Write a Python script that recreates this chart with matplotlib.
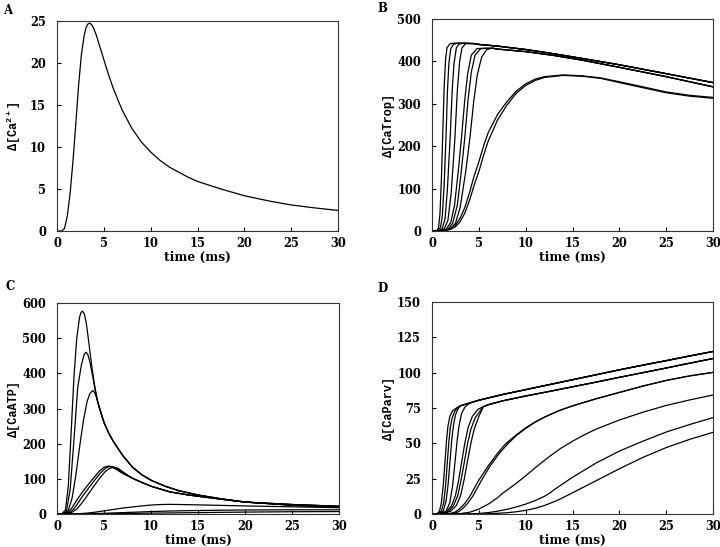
import matplotlib
matplotlib.use("Agg")
import matplotlib.pyplot as plt
import numpy as np

# ---- panel A: free Ca2+ transient ----
ca_t = [0, 0.5, 0.8, 1.1, 1.4, 1.7, 2.0, 2.3, 2.6, 2.9, 3.1, 3.3, 3.5, 3.7, 3.9, 4.2, 4.5, 5.0, 5.5, 6.0,
        6.5, 7, 8, 9, 10, 11, 12, 13, 14, 15, 17.5, 20, 22.5, 25, 27.5, 30]
ca_y = [0, 0, 0.3, 1.8, 4.5, 8.3, 12.7, 17.3, 21.0, 23.3, 24.2, 24.65, 24.75, 24.55, 24.15, 23.3, 22.2, 20.4, 18.6, 17.0,
        15.6, 14.3, 12.2, 10.6, 9.4, 8.4, 7.6, 7.0, 6.4, 5.9, 5.0, 4.2, 3.6, 3.1, 2.75, 2.45]

# ---- panel B: CaTrop ----
trop_tail1_t = [4.5, 5, 7, 10, 13, 16, 20, 25, 30]
trop_tail1_y = [442, 440, 436, 428, 418, 407, 392, 371, 350]
trop_tail2_t = [6.5, 7, 10, 13, 16, 20, 25, 30]
trop_tail2_y = [431, 429, 423, 414, 403, 386, 364, 340]
trop_fast = [
    ([0, 0.5, 0.7, 0.85, 1.0, 1.15, 1.3, 1.45, 1.6, 1.9, 2.3, 3.0, 4.0],
     [0, 0, 8, 40, 120, 230, 340, 405, 432, 441, 443, 443, 442]),
    ([0, 0.6, 0.9, 1.1, 1.3, 1.5, 1.65, 1.8, 2.0, 2.3, 2.7, 3.5],
     [0, 0, 8, 35, 110, 225, 330, 395, 430, 440, 443, 443]),
    ([0, 0.7, 1.1, 1.4, 1.65, 1.95, 2.15, 2.35, 2.6, 2.9, 3.5],
     [0, 0, 6, 30, 100, 225, 330, 395, 432, 441, 443]),
    ([0, 0.8, 1.3, 1.7, 2.05, 2.45, 2.7, 2.95, 3.2, 3.6],
     [0, 0, 5, 25, 90, 220, 330, 400, 432, 442]),
]
trop_mid = [
    ([0, 0.9, 1.5, 2.0, 2.4, 2.8, 3.15, 3.5, 3.8, 4.2, 4.8, 5.5],
     [0, 0, 4, 20, 60, 140, 220, 310, 370, 415, 430, 431]),
    ([0, 1.0, 1.7, 2.2, 2.7, 3.1, 3.5, 3.85, 4.2, 4.6, 5.2, 6.0],
     [0, 0, 4, 18, 60, 135, 220, 310, 375, 415, 430, 431]),
    ([0, 1.1, 1.9, 2.5, 3.0, 3.6, 4.05, 4.45, 4.85, 5.3, 5.8, 6.3],
     [0, 0, 4, 18, 55, 140, 220, 305, 370, 410, 427, 431]),
]
trop_slow = [
    ([0, 0.8, 1.5, 2, 2.5, 3, 3.5, 4, 4.5, 5, 5.5, 6, 7, 8, 9, 10, 11, 12, 14, 16, 18, 20, 22.5, 25, 27.5, 30],
     [0, 0, 2, 6, 14, 30, 55, 90, 130, 163, 200, 232, 275, 305, 330, 347, 358, 364, 368, 366, 361, 352, 340, 328, 320, 315]),
    ([0, 1.0, 2, 2.5, 3, 3.5, 4, 4.5, 5, 5.5, 6, 7, 8, 9, 10, 11, 12, 14, 16, 18, 20, 22.5, 25, 27.5, 30],
     [0, 0, 4, 10, 22, 42, 72, 108, 140, 178, 212, 262, 297, 325, 343, 355, 362, 367, 365, 360, 350, 338, 326, 318, 313]),
]

# ---- panel C: CaATP ----
atp_tail_t = [5, 5.5, 6, 7, 8, 9, 10, 11.5, 13, 15, 17.5, 20, 25, 30]
atp_tail_y = [260, 230, 206, 166, 134, 112, 96, 79, 66, 54, 43, 34, 27, 22]
atp_big = [
    ([0, 0.5, 0.9, 1.2, 1.5, 1.8, 2.1, 2.4, 2.55, 2.7, 2.9, 3.1, 3.3, 3.5, 3.7, 3.9, 4.1, 4.3, 4.5, 4.7],
     [0, 0, 12, 80, 230, 390, 500, 560, 573, 577, 570, 545, 505, 462, 420, 382, 350, 323, 302, 285]),
    ([0, 0.6, 1.0, 1.4, 1.8, 2.2, 2.6, 2.9, 3.1, 3.3, 3.5, 3.7, 3.9, 4.1, 4.3, 4.5, 4.7],
     [0, 0, 8, 70, 210, 360, 425, 455, 460, 452, 432, 405, 376, 347, 322, 302, 285]),
    ([0, 0.7, 1.2, 1.6, 2.0, 2.4, 2.8, 3.2, 3.5, 3.8, 4.0, 4.2, 4.4, 4.6, 4.8],
     [0, 0, 10, 45, 110, 190, 265, 320, 343, 351, 345, 331, 313, 295, 278]),
]
atp_midtail_t = [8, 9, 10, 12, 14, 17.5, 20, 25, 30]
atp_midtail_y = [102, 90, 79, 63, 54, 42, 34, 25, 19]
atp_mid = [
    ([0, 0.7, 1.2, 1.6, 2.0, 2.5, 3.0, 3.5, 4.0, 4.5, 5.0, 5.4, 5.8, 6.3, 7.0],
     [0, 0, 5, 18, 35, 55, 73, 90, 106, 122, 133, 136, 134, 127, 115]),
    ([0, 0.8, 1.4, 1.8, 2.2, 2.7, 3.2, 3.7, 4.2, 4.7, 5.2, 5.6, 6.0, 6.5, 7.0],
     [0, 0, 5, 15, 30, 50, 68, 86, 103, 119, 131, 136, 134, 127, 117]),
    ([0, 0.9, 1.6, 2.1, 2.6, 3.1, 3.6, 4.1, 4.6, 5.1, 5.6, 6.0, 6.5, 7.0],
     [0, 0, 5, 14, 30, 48, 67, 86, 104, 120, 130, 133, 130, 120]),
]
atp_small = [
    ([0, 1.5, 3, 4, 5, 6, 7, 8, 9, 10, 11, 12, 15, 20, 25, 30],
     [0, 0, 2, 5, 9, 13, 17, 20, 23, 25.5, 27, 27.5, 26, 23, 20.5, 18]),
    ([0, 2, 4, 6, 8, 10, 12, 15, 20, 25, 30],
     [0, 0, 1, 3, 5, 7, 8.5, 10, 11.5, 12, 12]),
    ([0, 3, 6, 10, 15, 20, 25, 30],
     [0, 0, 1, 2.5, 4, 5.5, 6.5, 7]),
]

# ---- panel D: CaParv ----
parv_top_t = [3, 4, 5, 7.5, 10, 12.5, 15, 17.5, 20, 22.5, 25, 27.5, 30]
parv_top_y = [76.5, 78.5, 80.5, 84.5, 88, 91.5, 95, 98.5, 102, 105.3, 108.5, 111.8, 115]
parv_sec_t = [5.5, 6, 7.5, 10, 12.5, 15, 17.5, 20, 22.5, 25, 27.5, 30]
parv_sec_y = [76, 77.3, 80, 83.5, 86.7, 90, 93.3, 96.7, 100, 103.3, 106.7, 110]
parv_fast = [
    ([0, 0.5, 0.8, 1.0, 1.2, 1.39, 1.55, 1.7, 1.9, 2.2, 2.6],
     [0, 0, 2, 8, 20, 37, 52, 62, 69, 73, 75]),
    ([0, 0.6, 1.0, 1.25, 1.45, 1.64, 1.8, 1.95, 2.15, 2.45, 2.8],
     [0, 0, 2, 8, 20, 37, 51, 61, 68, 73, 75.5]),
    ([0, 0.7, 1.2, 1.5, 1.72, 1.92, 2.1, 2.3, 2.5, 2.75],
     [0, 0, 2, 9, 21, 37, 52, 63, 70, 74]),
    ([0, 0.8, 1.5, 1.9, 2.2, 2.46, 2.7, 2.9, 3.15, 3.5],
     [0, 0, 2, 8, 20, 37, 53, 63, 71, 75.5]),
]
parv_mid = [
    ([0, 0.9, 1.6, 2.1, 2.5, 2.85, 3.17, 3.5, 3.85, 4.3, 4.9],
     [0, 0, 2, 6, 13, 24, 37, 50, 61, 69, 74]),
    ([0, 1.0, 1.8, 2.3, 2.75, 3.1, 3.46, 3.8, 4.15, 4.6, 5.2],
     [0, 0, 2, 6, 13, 24, 37, 50, 60, 68, 73.5]),
    ([0, 1.1, 2.0, 2.6, 3.05, 3.42, 3.78, 4.15, 4.5, 5.0],
     [0, 0, 2, 6, 13, 24, 37, 50, 60, 69]),
]
parv_slow = [
    ([0, 1.5, 2, 2.5, 3, 3.5, 4, 4.5, 5, 6, 7, 7.5, 8, 9, 10, 11, 12, 13.5, 15, 17.5, 20, 22.5, 25, 27.5, 30],
     [0, 0, 0.5, 1.5, 4, 7.5, 12, 18, 24, 34, 43, 47, 50.5, 56, 61, 65, 68.5, 73, 76.5, 81.5, 86, 90.5, 94.5, 97.7, 100.2]),
    ([0, 1.7, 2.3, 2.8, 3.3, 3.8, 4.3, 4.8, 5.3, 6.2, 7.2, 8, 9, 10, 11, 12, 13.5, 15, 17.5, 20, 22.5, 25, 27.5, 30],
     [0, 0, 0.5, 1.5, 4, 7.5, 12, 18, 24, 34, 43, 49, 55.5, 60.5, 65, 68.5, 73, 76.5, 81.5, 86, 90.5, 94.5, 97.7, 100.2]),
    ([0, 2.5, 3, 4, 5, 6, 7, 7.5, 8.75, 10, 11.25, 12.5, 13.75, 15, 16.25, 17.5, 20, 22.5, 25, 27.5, 30],
     [0, 0, 0.3, 1.2, 3.5, 7, 11.5, 14.5, 20.5, 27, 34, 40.5, 46.5, 51.5, 56, 60, 66.5, 72, 76.8, 80.7, 84.2]),
    ([0, 4, 5, 6, 7, 8, 9, 10, 11, 12, 12.5, 13, 14, 15, 16, 17.5, 20, 22.5, 25, 27.5, 30],
     [0, 0, 0.4, 1, 2, 3.3, 5, 7, 9.5, 12.5, 14.5, 17, 21.5, 26, 30, 36, 44.5, 51.5, 58, 63.3, 68.2]),
    ([0, 5, 6, 7, 8, 9, 10, 11, 12, 12.5, 13.5, 15, 17.5, 20, 22.5, 25, 27.5, 30],
     [0, 0, 0.2, 0.5, 0.9, 1.6, 2.6, 4.0, 6.0, 7.3, 10, 15, 23.5, 32, 40, 47, 52.8, 57.8]),
]

SERIF = "DejaVu Serif"
LINE = dict(color="black", lw=0.9)

plt.rcParams["mathtext.fontset"] = "custom"
plt.rcParams["mathtext.rm"] = "Liberation Mono:bold"
plt.rcParams["mathtext.bf"] = "Liberation Mono:bold"
plt.rcParams["mathtext.default"] = "bf"

fig = plt.figure(figsize=(7.2, 5.47), dpi=100)


def join(rise, tail_t, tail_y):
    t, y = rise
    last = t[-1]
    tt = list(t) + [a for a in tail_t if a > last]
    yy = list(y) + [b for a, b in zip(tail_t, tail_y) if a > last]
    return tt, yy


def style(ax, ymax, ystep, ylabel, letter, lx, ly):
    ax.set_xlim(0, 30)
    ax.set_ylim(0, ymax)
    ax.set_xticks(np.arange(0, 31, 5))
    ax.set_yticks(np.arange(0, ymax + 1, ystep))
    ax.tick_params(direction="in", length=3, width=0.8, top=False, right=False,
                   labelsize=8.3)
    ax.tick_params(axis="x", pad=4.5)
    ax.tick_params(axis="y", pad=8)
    for lab in ax.get_xticklabels() + ax.get_yticklabels():
        lab.set_fontfamily(SERIF)
        lab.set_fontweight("bold")
    for s in ax.spines.values():
        s.set_linewidth(0.8)
        s.set_color("#333333")
    ax.set_xlabel("time (ms)", family=SERIF, weight="bold", fontsize=8.8, va="center")
    ax.xaxis.set_label_coords(0.5, -0.125)
    ax.set_ylabel(ylabel, family=["Liberation Mono", "DejaVu Sans Mono"], weight="bold",
                  fontsize=8.6, va="center")
    ax.yaxis.set_label_coords(-0.153, 0.5)
    fig.text(lx, ly, letter, family=SERIF, weight="bold", fontsize=8.5, va="center", ha="left")


# A
axA = fig.add_axes([0.0792, 0.5777, 0.3903, 0.3839])
axA.plot(ca_t, ca_y, **LINE)
style(axA, 25, 5, "Δ[Ca$^{2+}$]", "A", 3 / 720, 1 - 10 / 547)

# B
axB = fig.add_axes([0.6, 0.5777, 0.3903, 0.3876])
for c in trop_fast:
    axB.plot(*join(c, trop_tail1_t, trop_tail1_y), **LINE)
for c in trop_mid:
    axB.plot(*join(c, trop_tail2_t, trop_tail2_y), **LINE)
for t, y in trop_slow:
    axB.plot(t, y, **LINE)
style(axB, 500, 100, "Δ[CaTrop]", "B", 377 / 720, 1 - 8 / 547)

# C
axC = fig.add_axes([0.0792, 0.0603, 0.3917, 0.3857])
for c in atp_big:
    axC.plot(*join(c, atp_tail_t, atp_tail_y), **LINE)
for c in atp_mid:
    axC.plot(*join(c, atp_midtail_t, atp_midtail_y), **LINE)
for t, y in atp_small:
    axC.plot(t, y, **LINE)
style(axC, 600, 100, "Δ[CaATP]", "C", 5 / 720, 1 - 286 / 547)

# D
axD = fig.add_axes([0.6, 0.0603, 0.3903, 0.3876])
for c in parv_fast:
    axD.plot(*join(c, parv_top_t, parv_top_y), **LINE)
for c in parv_mid:
    axD.plot(*join(c, parv_sec_t, parv_sec_y), **LINE)
for t, y in parv_slow:
    axD.plot(t, y, **LINE)
style(axD, 150, 25, "Δ[CaParv]", "D", 377 / 720, 1 - 289 / 547)

fig.savefig("out.png", dpi=100)
